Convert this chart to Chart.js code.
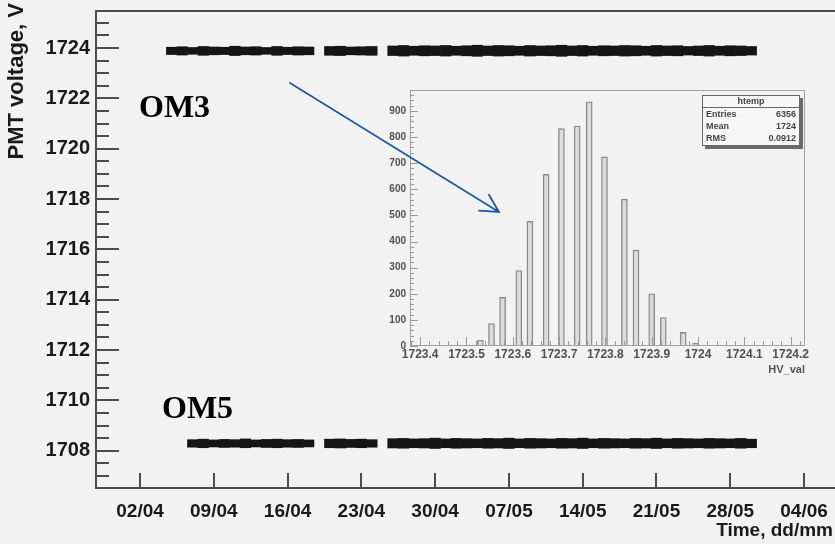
<!DOCTYPE html>
<html>
<head>
<meta charset="utf-8">
<script src="https://cdn.jsdelivr.net/npm/chart.js@4.4.1/dist/chart.umd.min.js"></script>
<style>
  html, body { margin: 0; padding: 0; background: #f2f2f2; }
  #wrap { position: relative; width: 835px; height: 544px; overflow: hidden; }
  #main { position: absolute; left: 0; top: 0; }
  #inset { position: absolute; left: 280px; top: 78px; filter: blur(0.5px); }
  #overlay { position: absolute; left: 0; top: 0; pointer-events: none; }
</style>
</head>
<body>
<div id="wrap">
  <canvas id="main" width="835" height="544"></canvas>
  <canvas id="inset" width="555" height="305"></canvas>
  <canvas id="overlay" width="835" height="544"></canvas>
</div>
<script>
// ---- Time axis: days counted from 02/04 ----
const weekTicks  = [0, 7, 14, 21, 28, 35, 42, 49, 56, 63];
const weekLabels = ['02/04', '09/04', '16/04', '23/04', '30/04', '07/05', '14/05', '21/05', '28/05', '04/06'];

// ---- Voltage axis ----
const voltTicks = [1708, 1710, 1712, 1714, 1716, 1718, 1720, 1722, 1724];

// ---- OM3 daily voltage band (min / max of the readings of each day) ----
const om3Days = [3, 4, 5, 6, 7, 8, 9, 10, 11, 12, 13, 14, 15, 16,
                 18, 19, 20, 21, 22,
                 24, 25, 26, 27, 28, 29, 30, 31, 32, 33, 34, 35, 36, 37, 38, 39, 40,
                 41, 42, 43, 44, 45, 46, 47, 48, 49, 50, 51, 52, 53, 54, 55, 56, 57, 58];
const om3Low = [1723.74, 1723.72, 1723.75, 1723.71, 1723.73, 1723.74, 1723.70, 1723.73, 1723.72, 1723.75, 1723.71, 1723.74, 1723.72, 1723.73,
                1723.71, 1723.70, 1723.73, 1723.72, 1723.71,
                1723.70, 1723.68, 1723.71, 1723.69, 1723.70, 1723.68, 1723.71, 1723.69, 1723.67, 1723.70, 1723.68, 1723.69, 1723.71, 1723.68, 1723.70, 1723.69, 1723.67,
                1723.70, 1723.68, 1723.71, 1723.69, 1723.70, 1723.68, 1723.69, 1723.71, 1723.68, 1723.70, 1723.69, 1723.72, 1723.70, 1723.68, 1723.71, 1723.69, 1723.70, 1723.72];
const om3High = [1724.03, 1724.05, 1724.02, 1724.06, 1724.04, 1724.03, 1724.07, 1724.04, 1724.05, 1724.02, 1724.06, 1724.03, 1724.05, 1724.04,
                 1724.06, 1724.07, 1724.04, 1724.05, 1724.06,
                 1724.08, 1724.10, 1724.07, 1724.09, 1724.08, 1724.10, 1724.07, 1724.09, 1724.11, 1724.08, 1724.10, 1724.09, 1724.07, 1724.10, 1724.08, 1724.09, 1724.11,
                 1724.08, 1724.10, 1724.07, 1724.09, 1724.08, 1724.10, 1724.09, 1724.07, 1724.10, 1724.08, 1724.09, 1724.06, 1724.08, 1724.10, 1724.07, 1724.09, 1724.08, 1724.06];

// ---- OM5 daily voltage band ----
const om5Days = [5, 6, 7, 8, 9, 10, 11, 12, 13, 14, 15, 16,
                 18, 19, 20, 21, 22,
                 24, 25, 26, 27, 28, 29, 30, 31, 32, 33, 34, 35, 36, 37, 38, 39, 40,
                 41, 42, 43, 44, 45, 46, 47, 48, 49, 50, 51, 52, 53, 54, 55, 56, 57, 58];
const om5Low = [1708.14, 1708.12, 1708.15, 1708.13, 1708.14, 1708.12, 1708.15, 1708.13, 1708.12, 1708.14, 1708.13, 1708.15,
                1708.12, 1708.11, 1708.13, 1708.12, 1708.14,
                1708.11, 1708.10, 1708.12, 1708.11, 1708.09, 1708.12, 1708.10, 1708.11, 1708.12, 1708.10, 1708.11, 1708.09, 1708.12, 1708.10, 1708.11, 1708.12, 1708.10,
                1708.11, 1708.09, 1708.12, 1708.10, 1708.11, 1708.12, 1708.10, 1708.11, 1708.09, 1708.12, 1708.10, 1708.11, 1708.12, 1708.10, 1708.11, 1708.12, 1708.10, 1708.12];
const om5High = [1708.44, 1708.46, 1708.43, 1708.45, 1708.44, 1708.47, 1708.43, 1708.45, 1708.46, 1708.44, 1708.45, 1708.43,
                 1708.46, 1708.47, 1708.45, 1708.46, 1708.44,
                 1708.48, 1708.49, 1708.47, 1708.48, 1708.50, 1708.47, 1708.49, 1708.48, 1708.47, 1708.49, 1708.48, 1708.50, 1708.47, 1708.49, 1708.48, 1708.47, 1708.49,
                 1708.48, 1708.50, 1708.47, 1708.49, 1708.48, 1708.47, 1708.49, 1708.48, 1708.50, 1708.47, 1708.49, 1708.48, 1708.47, 1708.49, 1708.48, 1708.47, 1708.49, 1708.46];

// ---- OM3 voltage distribution (htemp) ----
const histValues = [1723.507, 1723.530, 1723.554, 1723.578, 1723.613, 1723.637, 1723.672, 1723.705, 1723.739,
                    1723.765, 1723.798, 1723.841, 1723.866, 1723.900, 1723.925, 1723.968, 1723.995, 1724.026, 1724.060];
const histCounts = [4, 22, 86, 186, 289, 477, 657, 832, 842,
                    935, 724, 562, 367, 200, 109, 52, 10, 2, 0];
const histTicks  = [1723.4, 1723.5, 1723.6, 1723.7, 1723.8, 1723.9, 1724.0, 1724.1, 1724.2];
const histTickLabels = ['1723.4', '1723.5', '1723.6', '1723.7', '1723.8', '1723.9', '1724', '1724.1', '1724.2'];
const countTicks = [0, 100, 200, 300, 400, 500, 600, 700, 800, 900];
const statRows = [['Entries', '6356'], ['Mean', '1724'], ['RMS', '0.0912']];

const BG = '#f2f2f2';
const SANS = '"Liberation Sans", Arial, Helvetica, sans-serif';
const SERIF = '"Liberation Serif", "Times New Roman", serif';
Chart.defaults.font.family = SANS;

// keep the plot frame exactly where the layout padding puts it
const noLabelOverhang = s => { s.paddingTop = 0; s.paddingBottom = 0; s.paddingLeft = 0; s.paddingRight = 0; };

// ---------- main chart: frame, ticks, titles, labels ----------
const mainDecor = {
  id: 'mainDecor',
  beforeDraw(chart) {
    const c = chart.ctx;
    c.save();
    c.fillStyle = BG;
    c.fillRect(0, 0, chart.width, chart.height);
    c.restore();
  },
  afterDraw(chart) {
    const { ctx: c, chartArea: a, scales: { x, y } } = chart;
    c.save();
    c.strokeStyle = '#4c4c4c';
    c.lineWidth = 2;
    c.beginPath();
    c.moveTo(chart.width + 4, a.top);
    c.lineTo(a.left, a.top);
    c.lineTo(a.left, a.bottom);
    c.lineTo(chart.width + 4, a.bottom);
    c.stroke();

    c.beginPath();
    for (let k = Math.ceil(y.min * 2); k <= Math.floor(y.max * 2); k++) {
      const v = k / 2;
      const py = Math.round(y.getPixelForValue(v));
      const len = voltTicks.includes(v) ? 23 : 13;
      c.moveTo(a.left, py);
      c.lineTo(a.left + len, py);
    }
    weekTicks.forEach(d => {
      const px = Math.round(x.getPixelForValue(d));
      c.moveTo(px, a.bottom);
      c.lineTo(px, a.bottom - 15);
    });
    c.stroke();

    c.fillStyle = '#1a1a1a';
    c.font = 'bold 22px ' + SANS;
    c.textBaseline = 'middle';
    c.save();
    c.translate(17, 3);
    c.rotate(-Math.PI / 2);
    c.textAlign = 'right';
    c.fillText('PMT voltage, V', 0, 0);
    c.restore();

    c.font = 'bold 19px ' + SANS;
    c.textAlign = 'right';
    c.textBaseline = 'alphabetic';
    c.fillText('Time, dd/mm', 833, 536);

    c.fillStyle = '#000';
    c.font = 'bold 32px ' + SERIF;
    c.textAlign = 'left';
    c.fillText('OM3', 139, 117);
    c.fillText('OM5', 162, 418);
    c.restore();
  }
};

const band = (days, low, high) => days.map((d, i) => ({ x: d, y: [low[i], high[i]] }));

new Chart(document.getElementById('main'), {
  type: 'bar',
  data: {
    datasets: [
      { label: 'OM3', data: band(om3Days, om3Low, om3High), backgroundColor: '#151515', borderWidth: 0,
        grouped: false, barPercentage: 1, categoryPercentage: 1 },
      { label: 'OM5', data: band(om5Days, om5Low, om5High), backgroundColor: '#151515', borderWidth: 0,
        grouped: false, barPercentage: 1, categoryPercentage: 1 }
    ]
  },
  options: {
    responsive: false,
    animation: false,
    events: [],
    layout: { padding: { left: 0, top: 11, right: 0, bottom: 0 } },
    plugins: { legend: { display: false }, tooltip: { enabled: false } },
    scales: {
      x: {
        type: 'linear', min: -4.18, max: 65.94, offset: false,
        grid: { display: false, drawTicks: false }, border: { display: false },
        afterBuildTicks: s => { s.ticks = weekTicks.map(v => ({ value: v })); },
        afterFit: s => { s.height = 56; noLabelOverhang(s); },
        ticks: { autoSkip: false, maxRotation: 0, minRotation: 0, padding: 12, color: '#1a1a1a',
                 font: { size: 19, weight: 'bold' },
                 callback: (v, i) => weekLabels[i] }
      },
      y: {
        type: 'linear', min: 1706.52, max: 1725.47,
        grid: { display: false, drawTicks: false }, border: { display: false },
        afterBuildTicks: s => { s.ticks = voltTicks.map(v => ({ value: v })); },
        afterFit: s => { s.width = 96; noLabelOverhang(s); },
        ticks: { padding: 6, color: '#1a1a1a', font: { size: 20, weight: 'bold' },
                 callback: (v, i) => String(voltTicks[i]) }
      }
    }
  },
  plugins: [mainDecor]
});

// ---------- inset histogram ----------
const insetDecor = {
  id: 'insetDecor',
  afterDraw(chart) {
    const { ctx: c, chartArea: a, scales: { x, y } } = chart;
    c.save();
    c.strokeStyle = '#a2a2a2';
    c.lineWidth = 1;
    c.strokeRect(a.left + 0.5, a.top + 0.5, a.width - 1, a.height - 1);

    c.strokeStyle = '#9a9a9a';
    c.beginPath();
    for (let v = 0; v <= y.max; v += 20) {
      const py = Math.round(y.getPixelForValue(v)) + 0.5;
      c.moveTo(a.left, py);
      c.lineTo(a.left + (v % 100 === 0 ? 8 : 4), py);
    }
    for (let k = Math.ceil(x.min * 50); k <= Math.floor(x.max * 50); k++) {
      const px = Math.round(x.getPixelForValue(k / 50)) + 0.5;
      c.moveTo(px, a.bottom);
      c.lineTo(px, a.bottom - (k % 5 === 0 ? 9 : 5));
    }
    c.stroke();

    c.fillStyle = '#555';
    c.font = 'bold 11px ' + SANS;
    c.textAlign = 'right';
    c.textBaseline = 'alphabetic';
    c.fillText('HV_val', a.right, a.bottom + 27);

    // statistics box
    const bw = 98, bh = 51;
    const bx = a.right - 5 - bw, by = a.top + 5;
    c.fillStyle = '#6a6a6a';
    c.fillRect(bx + 3, by + 3, bw, bh);
    c.fillStyle = '#f7f7f7';
    c.fillRect(bx, by, bw, bh);
    c.strokeStyle = '#666';
    c.lineWidth = 1;
    c.strokeRect(bx + 0.5, by + 0.5, bw - 1, bh - 1);
    c.beginPath();
    c.moveTo(bx, by + 12.5);
    c.lineTo(bx + bw, by + 12.5);
    c.stroke();
    c.fillStyle = '#444';
    c.font = 'bold 9px ' + SANS;
    c.textBaseline = 'middle';
    c.textAlign = 'center';
    c.fillText('htemp', bx + bw / 2, by + 6.5);
    statRows.forEach((r, i) => {
      const ty = by + 20 + i * 12;
      c.textAlign = 'left';
      c.fillText(r[0], bx + 4, ty);
      c.textAlign = 'right';
      c.fillText(r[1], bx + bw - 4, ty);
    });
    c.restore();
  }
};

new Chart(document.getElementById('inset'), {
  type: 'bar',
  data: {
    datasets: [{
      label: 'htemp',
      data: histValues.map((v, i) => ({ x: v, y: histCounts[i] })),
      backgroundColor: '#dcdcdc', borderColor: '#8a8a8a', borderWidth: 1.4,
      barThickness: 6, grouped: false
    }]
  },
  options: {
    responsive: false,
    animation: false,
    events: [],
    layout: { padding: { left: 100, top: 12, right: 30, bottom: 0 } },
    plugins: { legend: { display: false }, tooltip: { enabled: false } },
    scales: {
      x: {
        type: 'linear', min: 1723.378, max: 1724.231, offset: false,
        grid: { display: false, drawTicks: false }, border: { display: false },
        afterBuildTicks: s => { s.ticks = histTicks.map(v => ({ value: v })); },
        afterFit: s => { s.height = 37; noLabelOverhang(s); },
        ticks: { autoSkip: false, maxRotation: 0, minRotation: 0, padding: 1, color: '#505050',
                 font: { size: 12, weight: 'bold' },
                 callback: (v, i) => histTickLabels[i] }
      },
      y: {
        type: 'linear', min: 0, max: 980,
        grid: { display: false, drawTicks: false }, border: { display: false },
        afterBuildTicks: s => { s.ticks = countTicks.map(v => ({ value: v })); },
        afterFit: s => { s.width = 30; noLabelOverhang(s); },
        ticks: { padding: 4, color: '#505050', font: { size: 10, weight: 'bold' },
                 callback: (v, i) => String(countTicks[i]) }
      }
    }
  },
  plugins: [insetDecor]
});

// ---------- arrow from the OM3 band to its distribution ----------
(function drawArrow() {
  const c = document.getElementById('overlay').getContext('2d');
  const from = { x: 290, y: 83 }, to = { x: 499, y: 212 };
  const ang = Math.atan2(to.y - from.y, to.x - from.x);
  const head = 20, spread = 28 * Math.PI / 180;
  c.strokeStyle = '#1d5aa6';
  c.lineWidth = 1.8;
  c.lineCap = 'round';
  c.beginPath();
  c.moveTo(from.x, from.y);
  c.lineTo(to.x, to.y);
  c.moveTo(to.x - head * Math.cos(ang - spread), to.y - head * Math.sin(ang - spread));
  c.lineTo(to.x, to.y);
  c.lineTo(to.x - head * Math.cos(ang + spread), to.y - head * Math.sin(ang + spread));
  c.stroke();
})();
</script>
</body>
</html>
